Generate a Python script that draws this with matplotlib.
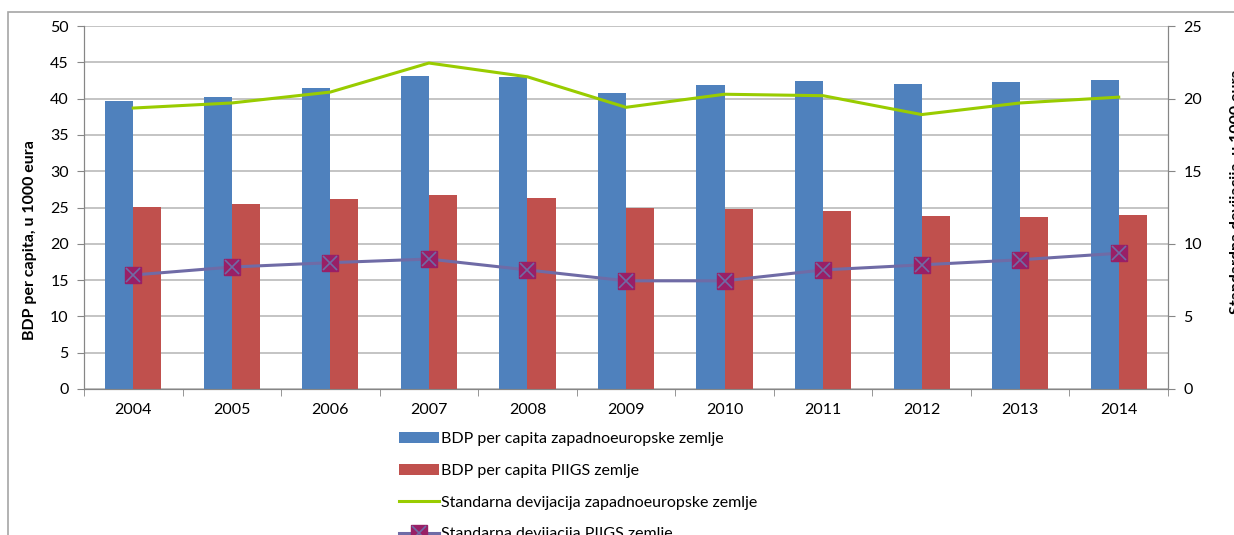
# coding=utf-8
# BDP per capita i standardna devijacija, zapadnoeuropske i PIIGS zemlje
import matplotlib
matplotlib.use('Agg')
import matplotlib.pyplot as plt
from matplotlib.lines import Line2D
from matplotlib.patches import Rectangle
from matplotlib.legend_handler import HandlerTuple
import numpy as np

plt.rcParams['font.family'] = ['Lato', 'DejaVu Sans']

# Podaci
godine = ['2004', '2005', '2006', '2007', '2008', '2009', '2010', '2011', '2012', '2013', '2014']
bdp_zapad = [39.7, 40.2, 41.5, 43.1, 43.0, 40.8, 41.9, 42.4, 42.0, 42.3, 42.6]
bdp_piigs = [25.1, 25.5, 26.2, 26.7, 26.3, 24.9, 24.8, 24.5, 23.8, 23.7, 24.0]
sd_zapad = [19.35, 19.7, 20.45, 22.45, 21.5, 19.4, 20.3, 20.2, 18.9, 19.7, 20.1]
sd_piigs = [7.85, 8.4, 8.7, 8.95, 8.2, 7.45, 7.45, 8.2, 8.55, 8.9, 9.35]

lbl_bz = 'BDP per capita zapadnoeuropske zemlje'
lbl_bp = 'BDP per capita PIIGS zemlje'
lbl_sz = 'Standarna devijacija zapadnoeuropske zemlje'
lbl_sp = 'Standarna devijacija PIIGS zemlje'

# Boje
C_PLAVA = '#4F81BD'
C_CRVENA = '#C0504D'
C_ZELENA = '#99CC00'
C_LJUB = '#6F6BA6'
C_MARKER = '#991F66'
C_GRID = '#BFBFBF'
C_OS = '#868686'

FS = 11.5

fig = plt.figure(figsize=(12.34, 5.35), dpi=100)
ax = fig.add_axes([84 / 1234., 1 - 389 / 535., (1168 - 84) / 1234., (389 - 26) / 535.])
ax2 = ax.twinx()

# Okvir grafikona (odrezan desno i dolje)
fig.patches.append(Rectangle((8 / 1234., -0.1), 1.2, 1 - 12 / 535. + 0.1, transform=fig.transFigure,
                             fill=False, edgecolor='#A6A6A6', linewidth=1.2, zorder=0))

x = np.arange(len(godine))
w = 0.285
b1 = ax.bar(x - w / 2, bdp_zapad, w, color=C_PLAVA, zorder=3, label=lbl_bz)
b2 = ax.bar(x + w / 2, bdp_piigs, w, color=C_CRVENA, zorder=3, label=lbl_bp)

ax.set_xlim(-0.5, len(godine) - 0.5)
ax.set_ylim(0, 50)
ax.set_yticks(np.arange(0, 51, 5))
ax.yaxis.grid(True, color=C_GRID, linewidth=1.3, zorder=0)
ax.set_axisbelow(True)

ax.set_xticks(x)
ax.set_xticklabels(godine)
ax.set_xticks(np.arange(-0.5, len(godine), 1), minor=True)
ax.tick_params(axis='x', which='major', length=0, pad=10, labelsize=FS)
ax.tick_params(axis='x', which='minor', length=5, color=C_OS, direction='out')
ax.tick_params(axis='y', length=5, color=C_OS, labelsize=FS, pad=6)

for a in (ax, ax2):
    a.spines['top'].set_visible(False)
    a.spines['right'].set_color(C_OS)
    a.spines['left'].set_color(C_OS)
    a.spines['bottom'].set_color(C_OS)

ax2.set_ylim(0, 25)
ax2.set_yticks(np.arange(0, 26, 5))
ax2.tick_params(axis='y', length=5, color=C_OS, labelsize=FS, pad=6)

l1, = ax2.plot(x, sd_zapad, color=C_ZELENA, linewidth=2.2, zorder=4)
l2, = ax2.plot(x, sd_piigs, color=C_LJUB, linewidth=2.2, marker='s', markersize=11,
               markerfacecolor=C_MARKER, markeredgecolor=C_MARKER, zorder=4)
l3, = ax2.plot(x, sd_piigs, linestyle='none', marker='x', markersize=10, markeredgewidth=1.2,
               color=C_LJUB, zorder=5)

fig.text(30 / 1234., 1 - 240 / 535., 'BDP per capita, u 1000 eura', rotation=90,
         ha='center', va='center', fontsize=FS, fontweight='bold')
fig.text(1237 / 1234., 1 - 192 / 535., 'Standardna devijacija, u 1000 eura', rotation=90,
         ha='center', va='center', fontsize=FS, fontweight='bold')

h_sz = Line2D([], [], color=C_ZELENA, linewidth=2.2)
h_sp = Line2D([], [], color=C_LJUB, linewidth=2.2, marker='s', markersize=11,
              markerfacecolor=C_MARKER, markeredgecolor=C_MARKER)
h_sx = Line2D([], [], linestyle='none', marker='x', markersize=10, markeredgewidth=1.2, color=C_LJUB)

leg = fig.legend([b1, b2, h_sz, (h_sp, h_sx)], [lbl_bz, lbl_bp, lbl_sz, lbl_sp],
                 handler_map={tuple: HandlerTuple(ndivide=1, pad=0)},
                 loc='upper left', bbox_to_anchor=(399 / 1234., 1 - 432 / 535.),
                 frameon=False, fontsize=FS, labelspacing=1.1, handlelength=2.5,
                 handletextpad=0.1, borderaxespad=0, borderpad=0)

fig.savefig('out.png', dpi=100)
